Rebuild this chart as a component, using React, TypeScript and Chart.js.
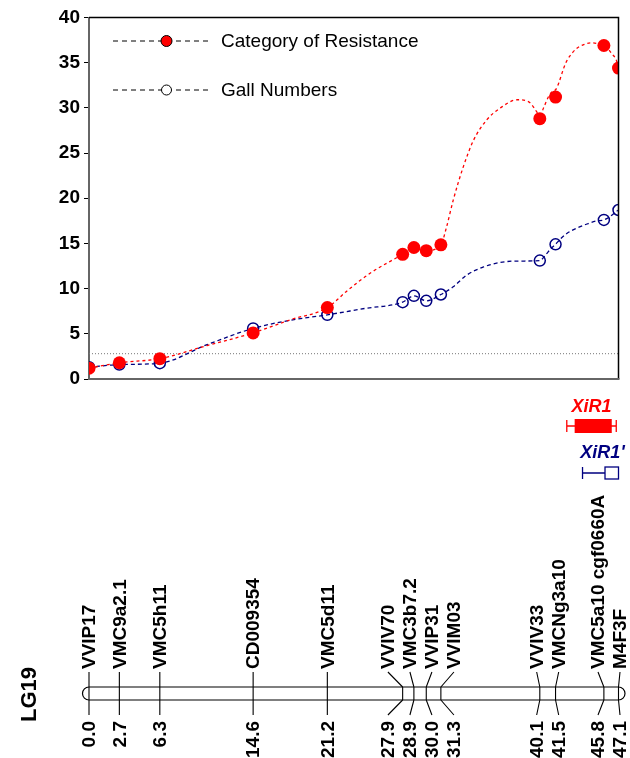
import React, { useEffect, useRef } from 'react';
import { Chart, registerables } from 'chart.js';
Chart.register(...registerables);

// ---------- data ----------
const MARKERS = ['VVIP17', 'VMC9a2.1', 'VMC5h11', 'CD009354', 'VMC5d11', 'VVIV70', 'VMC3b7.2', 'VVIP31', 'VVIM03', 'VVIV33', 'VMCNg3a10', 'VMC5a10 cgf0660A', 'M4F3F'];
const POSITIONS = [0.0, 2.7, 6.3, 14.6, 21.2, 27.9, 28.9, 30.0, 31.3, 40.1, 41.5, 45.8, 47.1];
// LOD values at the markers
const RESISTANCE = [1.2, 1.8, 2.25, 5.1, 7.9, 13.8, 14.55, 14.2, 14.85, 28.8, 31.2, 36.9, 34.4];
const GALLS = [1.3, 1.6, 1.75, 5.6, 7.1, 8.5, 9.2, 8.65, 9.35, 13.1, 14.9, 17.6, 18.7];
// LOD profiles
const RES_PROFILE_POS = [0.0, 2.7, 6.3, 10.5, 14.6, 17.9, 21.2, 23.0, 25.0, 27.9, 28.9, 30.0, 31.3, 31.8, 32.4, 33.3, 34.2, 35.4, 36.6, 38.1, 39.2, 39.7, 40.1, 40.5, 40.9, 41.3, 41.5, 41.8, 42.2, 42.5, 43.0, 43.4, 44.0, 44.6, 45.3, 45.8, 46.2, 46.5, 46.9, 47.1];
const RES_PROFILE = [1.2, 1.8, 2.25, 3.7, 5.1, 6.55, 7.9, 9.8, 11.7, 13.8, 14.55, 14.2, 14.85, 16.8, 19.8, 23.5, 26.4, 28.7, 30.0, 30.9, 30.6, 29.8, 29.2, 30.2, 31.3, 31.9, 32.0, 32.8, 34.3, 35.2, 36.1, 36.6, 37.0, 37.2, 37.1, 36.9, 36.5, 36.0, 35.3, 34.4];
const GALL_PROFILE_POS = [0.0, 2.7, 6.3, 10.5, 14.6, 17.9, 21.2, 24.5, 27.9, 28.9, 30.0, 31.3, 32.4, 33.6, 35.1, 36.6, 38.1, 40.1, 40.6, 41.1, 41.5, 41.9, 42.5, 43.4, 44.3, 45.2, 45.8, 47.1];
const GALL_PROFILE = [1.3, 1.6, 1.75, 3.8, 5.6, 6.5, 7.1, 7.8, 8.5, 9.2, 8.65, 9.35, 10.2, 11.5, 12.4, 12.9, 13.05, 13.1, 13.7, 14.45, 14.9, 15.45, 16.1, 16.7, 17.15, 17.5, 17.6, 18.7];
const THRESHOLD = 2.8;
const Y_TICKS = [0, 5, 10, 15, 20, 25, 30, 35, 40];
const SERIES_NAMES = ['Category of Resistance', 'Gall Numbers'];
const GROUP_NAME = 'LG19';
const QTL_NAMES = ['XiR1', "XiR1'"];
const QTL_OUTER = [[42.5, 46.9], [43.9, 47.1]];
const QTL_INNER = [[43.2, 46.5], [45.9, 47.1]];

const RED = '#ff0000';
const NAVY = '#000080';
const FONT = '"Liberation Sans", Arial, Helvetica, sans-serif';

function spreadLabels(px: number[], minSep: number, maxX: number) {
  let groups = px.map((p, i) => ({ start: i, end: i, center: p }));
  let changed = true;
  while (changed) {
    changed = false;
    for (let g = 0; g < groups.length - 1; g++) {
      const A = groups[g], B = groups[g + 1];
      const aLast = A.center + ((A.end - A.start) / 2) * minSep;
      const bFirst = B.center - ((B.end - B.start) / 2) * minSep;
      if (bFirst - aLast < minSep - 0.01) {
        let s = 0;
        for (let k = A.start; k <= B.end; k++) s += px[k];
        groups.splice(g, 2, { start: A.start, end: B.end, center: s / (B.end - A.start + 1) });
        changed = true;
        break;
      }
    }
  }
  const out: number[] = [];
  groups.forEach((g) => {
    const cnt = g.end - g.start + 1;
    let first = g.center - ((cnt - 1) / 2) * minSep;
    const last = first + (cnt - 1) * minSep;
    if (last > maxX) first -= last - maxX;
    for (let k = 0; k < cnt; k++) out.push(first + k * minSep);
  });
  return out;
}

const figurePlugin = {
  id: 'figure',
  beforeDatasetsDraw(chart: any) {
    const { ctx, chartArea, scales } = chart;
    const ys = scales.y;
    ctx.save();
    ctx.strokeStyle = '#777';
    ctx.lineWidth = 1;
    ctx.setLineDash([1, 2]);
    ctx.beginPath();
    ctx.moveTo(chartArea.left, ys.getPixelForValue(THRESHOLD));
    ctx.lineTo(chartArea.right, ys.getPixelForValue(THRESHOLD));
    ctx.stroke();
    ctx.restore();
  },
  afterDraw(chart: any) {
    const { ctx, chartArea, scales } = chart;
    const xs = scales.x;
    ctx.save();
    // frame
    ctx.strokeStyle = '#000';
    ctx.lineWidth = 1.5;
    ctx.beginPath();
    ctx.moveTo(chartArea.left, chartArea.top);
    ctx.lineTo(chartArea.right, chartArea.top);
    ctx.lineTo(chartArea.right, chartArea.bottom);
    ctx.stroke();
    ctx.strokeStyle = '#666';
    ctx.lineWidth = 2;
    ctx.beginPath();
    ctx.moveTo(chartArea.left - 1, chartArea.bottom);
    ctx.lineTo(chartArea.right + 1, chartArea.bottom);
    ctx.stroke();

    // legend
    const legendY = [41, 90];
    SERIES_NAMES.forEach((name, i) => {
      const y = legendY[i];
      ctx.strokeStyle = '#000';
      ctx.lineWidth = 1;
      ctx.setLineDash([5, 4]);
      ctx.beginPath();
      ctx.moveTo(113, y);
      ctx.lineTo(211, y);
      ctx.stroke();
      ctx.setLineDash([]);
      ctx.beginPath();
      ctx.arc(166.5, y, i === 0 ? 5.5 : 5, 0, Math.PI * 2);
      ctx.fillStyle = i === 0 ? RED : '#fff';
      ctx.fill();
      ctx.lineWidth = 1;
      ctx.strokeStyle = '#000';
      ctx.stroke();
      ctx.fillStyle = '#000';
      ctx.font = `19px ${FONT}`;
      ctx.textAlign = 'left';
      ctx.textBaseline = 'middle';
      ctx.fillText(name, 221, y + 1);
    });

    // QTL intervals
    const qtlColors = [RED, NAVY];
    const qtlTextY = [407, 453];
    const qtlBarY = [426, 473];
    QTL_NAMES.forEach((name, i) => {
      const col = qtlColors[i];
      const o0 = xs.getPixelForValue(QTL_OUTER[i][0]);
      const o1 = xs.getPixelForValue(QTL_OUTER[i][1]);
      const i0 = xs.getPixelForValue(QTL_INNER[i][0]);
      const i1 = xs.getPixelForValue(QTL_INNER[i][1]);
      const y = qtlBarY[i];
      ctx.fillStyle = col;
      ctx.font = `italic bold 18px ${FONT}`;
      ctx.textAlign = 'center';
      ctx.textBaseline = 'middle';
      ctx.fillText(name, (o0 + o1) / 2 + (i === 1 ? 2 : 0), qtlTextY[i]);
      ctx.strokeStyle = col;
      ctx.lineWidth = 1.3;
      ctx.beginPath();
      ctx.moveTo(o0, y); ctx.lineTo(o1, y);
      ctx.moveTo(o0, y - 6); ctx.lineTo(o0, y + 6);
      if (i === 0) { ctx.moveTo(o1, y - 6); ctx.lineTo(o1, y + 6); }
      ctx.stroke();
      if (i === 0) {
        ctx.fillRect(i0, y - 7, i1 - i0, 14);
      } else {
        ctx.fillStyle = '#fff';
        ctx.fillRect(i0, y - 6, i1 - i0, 12);
        ctx.strokeRect(i0, y - 6, i1 - i0, 12);
      }
    });

    // linkage group
    const barTop = 687, barBot = 700, r = (barBot - barTop) / 2, cy = (barTop + barBot) / 2;
    const x0 = xs.getPixelForValue(POSITIONS[0]);
    const x1 = xs.getPixelForValue(POSITIONS[POSITIONS.length - 1]);
    ctx.strokeStyle = '#000';
    ctx.lineWidth = 1.2;
    ctx.fillStyle = '#fff';
    ctx.beginPath();
    ctx.moveTo(x0, barTop);
    ctx.lineTo(x1, barTop);
    ctx.arc(x1, cy, r, -Math.PI / 2, Math.PI / 2);
    ctx.lineTo(x0, barBot);
    ctx.arc(x0, cy, r, Math.PI / 2, (3 * Math.PI) / 2);
    ctx.closePath();
    ctx.fill();
    ctx.stroke();

    const px = POSITIONS.map((p) => xs.getPixelForValue(p));
    const lx = spreadLabels(px, 22, 620);
    ctx.lineWidth = 1.1;
    px.forEach((p, k) => {
      ctx.beginPath();
      ctx.moveTo(p, barTop); ctx.lineTo(p, barBot);
      ctx.moveTo(p, barTop); ctx.lineTo(lx[k], 672);
      ctx.moveTo(p, barBot); ctx.lineTo(lx[k], 715);
      ctx.stroke();
    });
    ctx.fillStyle = '#000';
    ctx.font = `bold 19px ${FONT}`;
    ctx.textBaseline = 'middle';
    px.forEach((p, k) => {
      ctx.save();
      ctx.translate(lx[k] + 1, 669);
      ctx.rotate(-Math.PI / 2);
      ctx.textAlign = 'left';
      ctx.fillText(MARKERS[k], 0, 0);
      ctx.restore();
      ctx.save();
      ctx.translate(lx[k] + 1, 721);
      ctx.rotate(-Math.PI / 2);
      ctx.textAlign = 'right';
      ctx.fillText(POSITIONS[k].toFixed(1), 0, 0);
      ctx.restore();
    });
    ctx.save();
    ctx.font = `bold 22px ${FONT}`;
    ctx.translate(30, cy + 1);
    ctx.rotate(-Math.PI / 2);
    ctx.textAlign = 'center';
    ctx.fillText(GROUP_NAME, 0, 0);
    ctx.restore();
    ctx.restore();
  },
};

export default function App() {
  const ref = useRef<HTMLCanvasElement>(null);
  useEffect(() => {
    if (!ref.current) return;
    const chart = new Chart(ref.current, {
      type: 'scatter',
      data: {
        datasets: [
          {
            label: SERIES_NAMES[0],
            data: POSITIONS.map((x, i) => ({ x, y: RESISTANCE[i] })),
            backgroundColor: RED,
            borderColor: RED,
            pointRadius: 6.5,
            pointBorderWidth: 0,
            showLine: false,
          },
          {
            label: SERIES_NAMES[1],
            data: POSITIONS.map((x, i) => ({ x, y: GALLS[i] })),
            backgroundColor: 'rgba(255,255,255,0)',
            borderColor: NAVY,
            pointRadius: 5.5,
            pointBorderWidth: 1.5,
            showLine: false,
          },
          {
            label: SERIES_NAMES[0] + ' profile',
            data: RES_PROFILE_POS.map((x, i) => ({ x, y: RES_PROFILE[i] })),
            borderColor: RED,
            borderWidth: 1.3,
            borderDash: [3, 3],
            pointRadius: 0,
            showLine: true,
            tension: 0.4,
            cubicInterpolationMode: 'monotone',
          },
          {
            label: SERIES_NAMES[1] + ' profile',
            data: GALL_PROFILE_POS.map((x, i) => ({ x, y: GALL_PROFILE[i] })),
            borderColor: NAVY,
            borderWidth: 1.3,
            borderDash: [4, 3],
            pointRadius: 0,
            showLine: true,
            tension: 0.4,
            cubicInterpolationMode: 'monotone',
          },
        ],
      },
      options: {
        responsive: false,
        animation: false,
        devicePixelRatio: 1,
        layout: { padding: { left: 0, top: 17.5, right: 11.5, bottom: 379 } },
        plugins: { legend: { display: false }, tooltip: { enabled: false } },
        scales: {
          x: {
            type: 'linear',
            display: false,
            min: POSITIONS[0],
            max: POSITIONS[POSITIONS.length - 1],
          },
          y: {
            min: Y_TICKS[0],
            max: Y_TICKS[Y_TICKS.length - 1],
            afterFit: (s: any) => { s.width = 89; },
            afterBuildTicks: (s: any) => { s.ticks = Y_TICKS.map((v) => ({ value: v })); },
            ticks: {
              color: '#000',
              padding: 4,
              font: { family: FONT, size: 19, weight: 'bold' },
            },
            grid: { drawOnChartArea: false, drawTicks: true, tickLength: 5, color: '#000', lineWidth: 1 },
            border: { display: true, color: '#666', width: 2 },
          },
        },
      },
      plugins: [figurePlugin],
    });
    return () => chart.destroy();
  }, []);
  return (
    <div style={{ position: 'absolute', left: 0, top: 0, width: 630, height: 758, background: '#fff' }}>
      <canvas ref={ref} width={630} height={758} style={{ width: 630, height: 758, display: 'block' }} />
    </div>
  );
}
